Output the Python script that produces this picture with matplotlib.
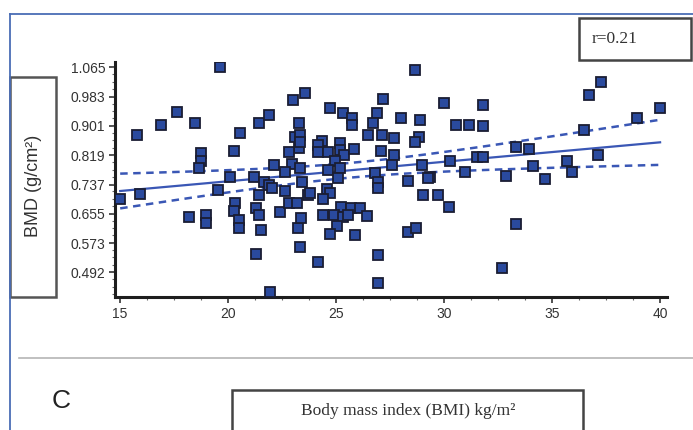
import numpy as np
import matplotlib
matplotlib.use("Agg")
from matplotlib import pyplot as plt
from matplotlib.patches import Rectangle
from matplotlib.lines import Line2D
from matplotlib.ticker import MultipleLocator, FixedLocator

# BMI (kg/m2)
bmi = [19.64, 15.79, 16.91, 17.64, 18.46, 18.76, 18.76, 18.67, 20.26, 20.57,
       21.42, 21.91, 23.01, 23.27, 23.09, 23.35, 23.27, 22.81, 22.11, 22.96,
       20.11, 21.19, 22.65, 15.01, 15.94, 18.18, 18.98, 18.98, 19.54, 20.34,
       20.26, 20.49, 20.49, 21.30, 21.42, 21.54, 21.30, 21.96, 21.42, 21.65,
       21.88, 22.04, 22.39, 22.65, 22.81, 23.19, 23.24, 23.35, 24.18, 28.66,
       23.56, 27.19, 30.01, 31.81, 24.72, 25.33, 25.75, 25.75, 26.92, 26.72,
       28.00, 28.89, 30.54, 31.16, 31.82, 26.46, 27.14, 27.70, 28.84, 28.66,
       24.33, 24.15, 24.18, 24.64, 25.19, 25.19, 25.39, 25.85, 27.08, 27.70,
       23.33, 24.95, 23.33, 24.64, 25.19, 27.58, 28.97, 30.28, 31.51, 31.82,
       26.81, 29.35, 30.97, 25.07, 26.93, 26.96, 28.31, 29.28, 23.72, 24.56,
       24.72, 24.41, 29.04, 29.71, 30.23, 25.23, 25.69, 26.11, 24.41, 24.92,
       25.34, 26.42, 25.57, 23.38, 25.03, 24.72, 25.88, 28.35, 28.69, 26.96,
       26.96, 37.25, 36.73, 40.00, 38.92, 36.48, 33.33, 33.95, 35.70, 37.14,
       34.10, 35.91, 32.87, 34.68, 33.33, 32.67, 23.41, 23.80]

# BMD (g/cm2)
bmd = [1.066, 0.877, 0.905, 0.941, 0.908, 0.824, 0.803, 0.782, 0.831, 0.880,
       0.908, 0.933, 0.973, 0.908, 0.871, 0.876, 0.838, 0.827, 0.792, 0.794,
       0.759, 0.759, 0.771, 0.696, 0.710, 0.647, 0.652, 0.628, 0.721, 0.684,
       0.663, 0.638, 0.614, 0.670, 0.652, 0.609, 0.542, 0.437, 0.707, 0.745,
       0.736, 0.726, 0.661, 0.719, 0.684, 0.684, 0.614, 0.563, 0.521, 1.057,
       0.992, 0.976, 0.964, 0.961, 0.952, 0.938, 0.924, 0.903, 0.936, 0.908,
       0.922, 0.919, 0.905, 0.905, 0.901, 0.877, 0.877, 0.868, 0.871, 0.855,
       0.859, 0.847, 0.829, 0.829, 0.852, 0.833, 0.821, 0.836, 0.831, 0.821,
       0.855, 0.803, 0.782, 0.777, 0.782, 0.792, 0.792, 0.803, 0.815, 0.815,
       0.769, 0.759, 0.771, 0.756, 0.745, 0.726, 0.747, 0.756, 0.709, 0.724,
       0.712, 0.696, 0.707, 0.709, 0.675, 0.675, 0.670, 0.670, 0.652, 0.653,
       0.647, 0.650, 0.653, 0.642, 0.622, 0.598, 0.596, 0.604, 0.616, 0.540,
       0.460, 1.025, 0.987, 0.952, 0.924, 0.889, 0.843, 0.836, 0.803, 0.819,
       0.790, 0.771, 0.762, 0.752, 0.626, 0.502, 0.745, 0.712]

xticks = [15, 20, 25, 30, 35, 40]
yticks = [0.492, 0.573, 0.655, 0.737, 0.819, 0.901, 0.983, 1.065]
ytick_labels = ["0.492", "0.573", "0.655", "0.737", "0.819", "0.901", "0.983", "1.065"]
r_text = "r=0.21"


def main():
    W, H = 693, 430
    fig = plt.figure(figsize=(W / 100, H / 100), dpi=100)

    # eixo principal (posicoes em pixels convertidas)
    ax = fig.add_axes([115 / W, 1 - 297 / H, 552 / W, 235 / H])

    x = np.array(bmi)
    y = np.array(bmd)

    # regressao linear + intervalo de confianca de 95%
    b, a = np.polyfit(x, y, 1)
    n = len(x)
    resid = y - (a + b * x)
    s = np.sqrt(np.sum(resid ** 2) / (n - 2))
    sxx = np.sum((x - x.mean()) ** 2)
    xx = np.linspace(x.min(), x.max(), 100)
    yy = a + b * xx
    se = s * np.sqrt(1 / n + (xx - x.mean()) ** 2 / sxx)
    t = 1.977

    line_col = "#3a57b5"
    ax.plot(xx, yy, color=line_col, lw=1.6, zorder=3)
    ax.plot(xx, yy + t * se, color=line_col, lw=1.8, ls=(0, (3, 2.2)), zorder=3)
    ax.plot(xx, yy - t * se, color=line_col, lw=1.8, ls=(0, (3, 2.2)), zorder=3)

    ax.plot(x, y, ls="none", marker="s", ms=6.6, mfc="#2a4a9e", mec="#1a1d33",
            mew=1.3, zorder=4)

    ax.set_xlim(14.77, 40.32)
    ax.set_ylim(0.422, 1.080)

    for side in ("top", "right"):
        ax.spines[side].set_visible(False)
    for side in ("left", "bottom"):
        ax.spines[side].set_linewidth(2.2)
        ax.spines[side].set_color("#1e1e1e")

    ax.xaxis.set_major_locator(FixedLocator(xticks))
    ax.xaxis.set_minor_locator(MultipleLocator(1.25))
    ax.set_yticks(yticks)
    ax.set_yticklabels(ytick_labels)
    ax.yaxis.set_minor_locator(MultipleLocator(0.0205))
    ax.tick_params(which="major", length=4, width=1.2, color="#333333",
                   labelsize=10, labelcolor="#333333", pad=3)
    ax.tick_params(which="minor", length=2, width=0.8, color="#666666")
    for lab in ax.get_xticklabels() + ax.get_yticklabels():
        lab.set_family("Liberation Sans")

    # moldura azul (canto superior esquerdo)
    blue = "#4a6db5"
    fig.add_artist(Line2D([10 / W, 1], [1 - 14 / H] * 2, color=blue, lw=1.3))
    fig.add_artist(Line2D([10 / W] * 2, [0, 1 - 14 / H], color=blue, lw=1.3))
    # linha cinza
    fig.add_artist(Line2D([19 / W, 1], [1 - 358 / H] * 2, color="#b5b5b5", lw=1.2))

    # caixa do rotulo y
    fig.add_artist(Rectangle((10 / W, 1 - 297 / H), 46 / W, 220 / H, fill=False,
                             ec="#555555", lw=1.8, transform=fig.transFigure))
    fig.text(33 / W, 1 - 186 / H, "BMD (g/cm²)", rotation=90, ha="center",
             va="center", fontsize=13, family="Liberation Sans", color="#333333")

    # caixa do r
    fig.add_artist(Rectangle((579 / W, 1 - 60 / H), 112 / W, 42 / H, fill=False,
                             ec="#444444", lw=1.8, transform=fig.transFigure))
    fig.text(592 / W, 1 - 39 / H, r_text, ha="left", va="center", fontsize=12.5,
             family="Liberation Serif", color="#333333")

    # caixa do rotulo x
    fig.add_artist(Rectangle((232 / W, -0.05), 351 / W, 0.05 + 1 - 390 / H, fill=False,
                             ec="#444444", lw=1.8, transform=fig.transFigure))
    fig.text(408 / W, 1 - 411 / H, "Body mass index (BMI) kg/m²", ha="center",
             va="center", fontsize=12.5, family="Liberation Serif", color="#333333")

    fig.text(61 / W, 1 - 401 / H, "C", ha="center", va="center", fontsize=19,
             family="Liberation Sans", color="#222222")

    fig.savefig("out.png", dpi=100)


if __name__ == "__main__":
    main()
